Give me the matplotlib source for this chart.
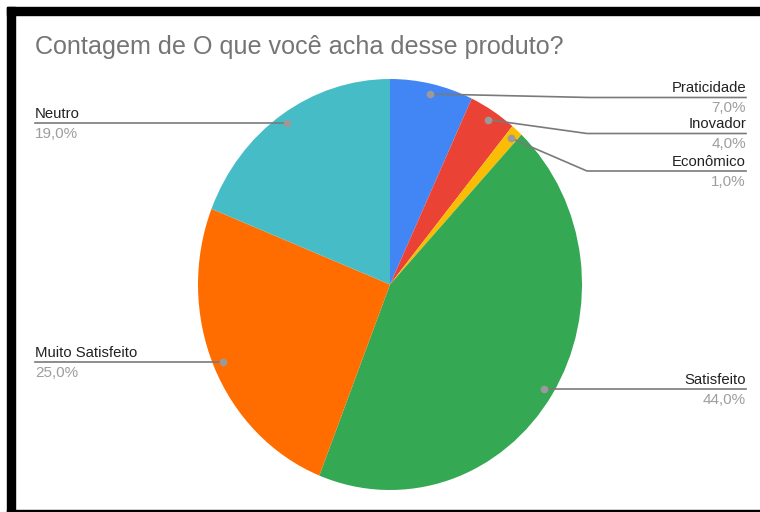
import numpy as np
import matplotlib.pyplot as plt
from matplotlib.patches import Rectangle

plt.rcParams['font.family'] = ['Liberation Sans', 'DejaVu Sans']

title = 'Contagem de O que você acha desse produto?'
categories = ['Praticidade', 'Inovador', 'Econômico', 'Satisfeito',
              'Muito Satisfeito', 'Neutro']
values = [7.0, 4.0, 1.0, 44.0, 25.0, 19.0]
colors = ['#4285F4', '#EA4335', '#FBBC04', '#34A853', '#FF6D01', '#46BDC6']

# label layout in pixels: side, y of the underline, x of the elbow (None = straight)
label_side = ['right', 'right', 'right', 'right', 'left', 'left']
label_line_y = [97.5, 133.5, 171, 389, 362, 123]
label_elbow_x = [590, 587, 587, None, None, None]

W, H = 760, 512
cx, cy, rx, ry = 390, 284.5, 192, 205.5


def to_data(px, py):
    return (px - cx) / rx, (cy - py) / ry


fig = plt.figure(figsize=(W / 100, H / 100), dpi=100)
ax = fig.add_axes([(cx - rx) / W, (H - cy - ry) / H, 2 * rx / W, 2 * ry / H])
ax.pie(values, colors=colors, startangle=90, counterclock=False,
       wedgeprops=dict(linewidth=0))
ax.set_aspect('auto')
ax.set_xlim(-1, 1)
ax.set_ylim(-1, 1)
ax.axis('off')

fig.text(35 / W, 1 - 47 / H, title, fontsize=18.1, color='#757575',
         ha='left', va='center')

total = sum(values)
cum = 0
for name, v, side, ly, ex in zip(categories, values, label_side,
                                  label_line_y, label_elbow_x):
    mid = np.deg2rad(90 - 360 * (cum + v / 2) / total)
    cum += v
    dx, dy = 0.95 * np.cos(mid), 0.95 * np.sin(mid)
    ax.plot(dx, dy, 'o', ms=4.5, color='#9a9a9a', clip_on=False, zorder=5)
    end_px = 746 if side == 'right' else 35
    x_end, y_line = to_data(end_px, ly)
    if ex is not None:
        xe, _ = to_data(ex, ly)
        xs = [dx, xe, x_end]
        ys = [dy, y_line, y_line]
    else:
        xs = [dx, x_end]
        ys = [y_line, y_line]
    ax.plot(xs, ys, color='#7a7a7a', lw=1.2, clip_on=False, zorder=4)
    ha = 'right' if side == 'right' else 'left'
    _, y_name = to_data(end_px, ly - 2)
    _, y_pct = to_data(end_px, ly + 4)
    ax.text(x_end, y_name, name, fontsize=10.7, color='#222222', ha=ha,
            va='bottom', clip_on=False)
    ax.text(x_end, y_pct, f'{v:.1f}%'.replace('.', ','), fontsize=11,
            color='#9e9e9e', ha=ha, va='top', clip_on=False)

# black frame around the screenshot
for x0, y0, w, h in [(7, 7, W - 7, 8), (7, 7, 8, H - 7), (7, H - 2, W - 7, 2)]:
    fig.patches.append(Rectangle((x0 / W, 1 - (y0 + h) / H), w / W, h / H,
                                 transform=fig.transFigure, color='black',
                                 zorder=10))

fig.savefig('out.png', dpi=100)
